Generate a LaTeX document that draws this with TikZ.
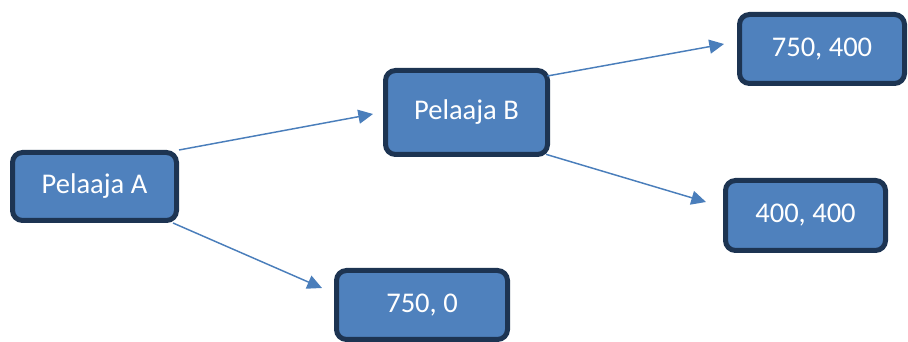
\documentclass[tikz,border=0pt]{standalone}
\usepackage{fontspec}
\setmainfont{Carlito}
\usetikzlibrary{arrows.meta}
\definecolor{boxfill}{HTML}{4F81BD}
\definecolor{boxedge}{HTML}{1D3452}
\definecolor{arrowc}{HTML}{4A7EBB}
\begin{document}
\begin{tikzpicture}[x=0.75pt,y=-0.75pt,
  box/.style={draw=boxedge, fill=boxfill, line width=3.75pt, rounded corners=7.5pt,
    text=white, font=\fontsize{21.4pt}{25pt}\selectfont, inner sep=0pt},
  conn/.style={draw=arrowc, line width=1.1pt, -{Triangle[length=11pt,width=10.5pt]}}]
\useasboundingbox (0,0) rectangle (908,342);
\node[box, minimum width=123pt, minimum height=51pt] (a) at (94.5,186.5) {Pelaaja A};
\node[box, minimum width=121.5pt, minimum height=63pt] (b) at (466.5,112.5) {Pelaaja B};
\node[box, minimum width=123.75pt, minimum height=51.75pt] (c) at (822,49) {750, 400};
\node[box, minimum width=120pt, minimum height=52.5pt] (d) at (805.5,215.5) {400, 400};
\node[box, minimum width=128.25pt, minimum height=51.75pt] (e) at (422,305) {750, 0};
\coordinate (tb) at (373,114);
\coordinate (te) at (322,288);
\coordinate (tc) at (724,44);
\coordinate (td) at (706,202);
\draw[conn] (a.north east) -- (tb);
\draw[conn] ([xshift=-4.5pt]a.south east) -- (te);
\draw[conn] ([xshift=-2pt,yshift=-6pt]b.north east) -- (tc);
\draw[conn] ([xshift=-3pt,yshift=2pt]b.south east) -- (td);
\end{tikzpicture}
\end{document}
